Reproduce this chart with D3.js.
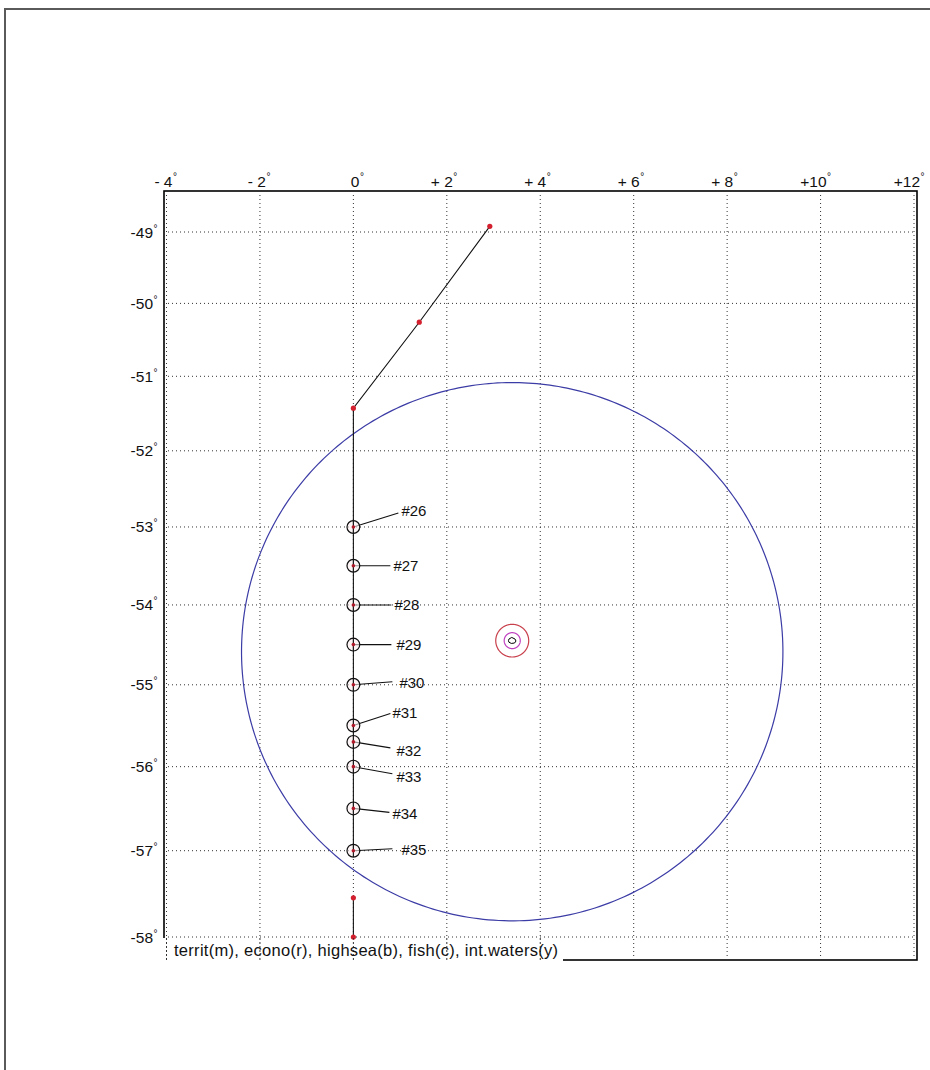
<!DOCTYPE html>
<html><head><meta charset="utf-8">
<script src="https://cdn.jsdelivr.net/npm/d3@7"></script>
<style>
body{margin:0;background:#fff;}
svg{display:block;}
text{font-family:"Liberation Sans",Arial,sans-serif;fill:#111;}
</style></head><body>
<svg id="chart" width="930" height="1070"></svg>
<script>
// ---- data ----
const lonTicks = [-4, -2, 0, 2, 4, 6, 8, 10, 12];
const lonTickLabels = ["- 4", "- 2", "0", "+ 2", "+ 4", "+ 6", "+ 8", "+10", "+12"];
const latTicks = [-49, -50, -51, -52, -53, -54, -55, -56, -57, -58];
const latTickLabels = ["-49", "-50", "-51", "-52", "-53", "-54", "-55", "-56", "-57", "-58"];
const trackLon = [2.92, 1.41, 0, 0];
const trackLat = [-48.92, -50.26, -51.43, -57.0];
const trackMarked = [true, true, true, false];
const tailLon = [0, 0];
const tailLat = [-57.55, -58.0];
const stationIds = ["#26", "#27", "#28", "#29", "#30", "#31", "#32", "#33", "#34", "#35"];
const stationLon = [0, 0, 0, 0, 0, 0, 0, 0, 0, 0];
const stationLat = [-53.0, -53.5, -54.0, -54.5, -55.0, -55.5, -55.7, -56.0, -56.5, -57.0];
const islandCenter = [3.40, -54.45];
const islandLon = [3.33, 3.39, 3.46, 3.48, 3.45, 3.38, 3.33, 3.32];
const islandLat = [-54.43, -54.41, -54.43, -54.455, -54.48, -54.485, -54.47, -54.45];
const zoneNames = ["highsea", "econo", "territ"];
const zoneRadiusDeg = [3.365, 0.205, 0.10];
const legendText = "territ(m), econo(r), highsea(b), fish(c), int.waters(y)";

// ---- layout (pixels) ----
const labelDx = [48, 40, 41, 43, 46, 39, 43, 43, 39, 48];
const labelDy = [-11, 5, 5, 5, 3, -8, 14, 15, 10, 4];
const leaderDx = [45, 37, 38, 38, 39, 37, 37, 39, 36, 39];
const leaderDy = [-14, 0, 0, 0, -3, -12, 6, 7, 4, -2];
const zoneColor = ["#3c3ca6", "#c8404c", "#c040c0"];

const svg = d3.select("#chart");
const merc = d3.geoMercator().scale(1).translate([0, 0]);
const my = lat => merc([0, lat])[1];
const x = d3.scaleLinear().domain([-4, 12]).range([166.5, 914]);
const y = d3.scaleLinear().domain([my(-49), my(-58)]).range([232, 937]);
const P = (lon, lat) => [x(lon), y(my(lat))];
const geoT = d3.geoTransform({point(lon, lat) { const p = P(lon, lat); this.stream.point(p[0], p[1]); }});
const path = d3.geoPath(geoT);

const L = 164, R = 917, T = 191, B = 960;

// outer frame
svg.append("path").attr("d", "M5,1070V9H930").attr("fill", "none").attr("stroke", "#5a5a5a").attr("stroke-width", 2);

// plot frame
svg.append("rect").attr("x", L).attr("y", T).attr("width", R - L).attr("height", B - T)
  .attr("fill", "#fff").attr("stroke", "#000").attr("stroke-width", 1.6);

// legend box (covers frame)
svg.append("rect").attr("x", L - 2).attr("y", 938).attr("width", 563 - L + 2).attr("height", B - 938 + 2).attr("fill", "#fff");

// grid
const grid = svg.append("g").attr("stroke", "#333").attr("stroke-width", 1).attr("stroke-dasharray", "1,3");
lonTicks.forEach(v => grid.append("line").attr("x1", x(v)).attr("x2", x(v)).attr("y1", T).attr("y2", B));
latTicks.forEach(v => grid.append("line").attr("x1", L).attr("x2", R).attr("y1", P(0, v)[1]).attr("y2", P(0, v)[1]));

// tick labels
const tl = svg.append("g").style("font-size", "15.5px");
lonTicks.forEach((v, i) => {
  tl.append("text").attr("x", x(v) + 6).attr("y", 187).attr("text-anchor", "end").text(lonTickLabels[i]);
  tl.append("text").attr("x", x(v) + 6.5).attr("y", 180).style("font-size", "10px").text("°");
});
latTicks.forEach((v, i) => {
  const yy = P(0, v)[1];
  tl.append("text").attr("x", 153).attr("y", yy + 5.5).attr("text-anchor", "end").text(latTickLabels[i]);
  tl.append("text").attr("x", 153.5).attr("y", yy - 0.5).style("font-size", "10px").text("°");
});

// zone circles
zoneNames.forEach((n, i) => {
  const c = d3.geoCircle().center(islandCenter).radius(zoneRadiusDeg[i]).precision(1)();
  svg.append("path").attr("d", path(c)).attr("fill", "none").attr("stroke", zoneColor[i]).attr("stroke-width", 1.2);
});
// island
const island = {type: "Polygon", coordinates: [islandLon.map((lo, i) => [lo, islandLat[i]]).concat([[islandLon[0], islandLat[0]]])]};
svg.append("path").attr("d", path(island)).attr("fill", "none").attr("stroke", "#000").attr("stroke-width", 1);

// track
const line = d3.line();
const trackPts = trackLon.map((lo, i) => P(lo, trackLat[i]));
svg.append("path").attr("d", line(trackPts)).attr("fill", "none").attr("stroke", "#111").attr("stroke-width", 1.1);
const tailPts = tailLon.map((lo, i) => P(lo, tailLat[i]));
svg.append("path").attr("d", line(tailPts)).attr("fill", "none").attr("stroke", "#111").attr("stroke-width", 1.1);
const redPts = trackPts.filter((p, i) => trackMarked[i]).concat(tailPts);
svg.append("g").selectAll("circle").data(redPts).join("circle")
  .attr("cx", d => d[0]).attr("cy", d => d[1]).attr("r", 2.6).attr("fill", "#d4202e");

// stations
const st = svg.append("g");
stationIds.forEach((id, i) => {
  const [cx, cy] = P(stationLon[i], stationLat[i]);
  st.append("line").attr("x1", cx).attr("y1", cy).attr("x2", cx + leaderDx[i]).attr("y2", cy + leaderDy[i])
    .attr("stroke", "#111").attr("stroke-width", 1.1);
  st.append("circle").attr("cx", cx).attr("cy", cy).attr("r", 6.4).attr("fill", "#fbeeee").attr("fill-opacity", 0.6).attr("stroke", "#111").attr("stroke-width", 1.2);
  st.append("line").attr("x1", cx).attr("x2", cx).attr("y1", cy - 6.4).attr("y2", cy + 6.4).attr("stroke", "#111").attr("stroke-width", 1.1);
  st.append("circle").attr("cx", cx).attr("cy", cy).attr("r", 1.8).attr("fill", "#b01828");
  st.append("text").attr("x", cx + labelDx[i]).attr("y", cy + labelDy[i] + 0.5).style("font-size", "15px").text(id);
});

// legend
svg.append("text").attr("x", 174).attr("y", 956).style("font-size", "16.5px").attr("textLength", 384).attr("lengthAdjust", "spacing").text(legendText);
// grid over legend box
const grid2 = svg.append("g").attr("stroke", "#333").attr("stroke-width", 1).attr("stroke-dasharray", "1,3");
lonTicks.filter(v => x(v) < 563).forEach(v => grid2.append("line").attr("x1", x(v)).attr("x2", x(v)).attr("y1", 938).attr("y2", B));
</script>
</body></html>
